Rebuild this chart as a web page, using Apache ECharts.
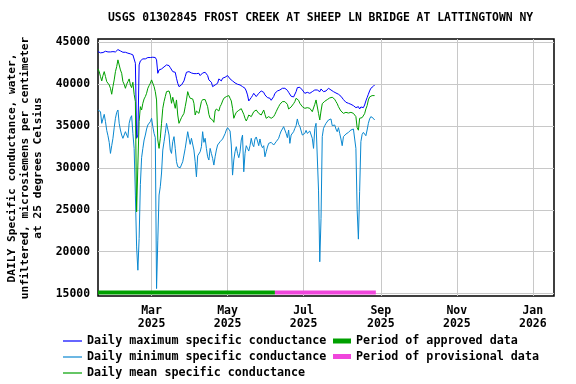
<!DOCTYPE html>
<html><head><meta charset="utf-8">
<script src="https://cdn.jsdelivr.net/npm/echarts@6/dist/echarts.min.js"></script>
<style>html,body{margin:0;padding:0;background:#fff}#c{width:576px;height:384px}</style>
</head><body><div id="c"></div>
<script>
const startDate = '2025-01-17';
const maxVals = [43880,43840,43730,43730,43770,43880,43920,43960,43840,43800,43840,43770,43880,43800,43840,43960,44120,44200,43960,43800,
43800,43770,43800,43730,43690,43650,43610,43570,43490,43290,42490,33530,33920,42290,42770,42930,43010,42850,43010,43090,
43170,43130,43170,43170,43210,43170,43170,42890,41290,41690,41890,41810,41970,42050,42130,42290,42490,42210,41970,41810,
41490,41490,41410,40700,40100,39700,39820,39900,39980,40380,40900,41410,41570,41490,41330,41330,41330,41250,41180,41250,
41330,41290,41020,40820,41330,41370,41410,41370,41020,40500,40380,40220,39700,39900,39900,39900,40100,40620,40620,40380,
40700,40780,40820,40900,41020,40900,40620,40460,40380,40260,40140,40060,39980,39940,39900,39820,39700,39580,39500,39180,
38710,37990,37910,38390,38630,38900,38710,38510,38630,38900,39100,39180,39300,39020,38710,38630,38390,38310,38310,38070,
38110,38510,38900,39100,39180,39300,39300,39420,39500,39580,39500,39380,39260,39020,38790,38550,38390,38470,38630,39100,
39580,39780,39620,39500,39300,39100,38900,38940,39020,38980,38900,39020,39100,39220,39300,39300,39300,39220,39100,39420,
39300,39100,39300,39180,39180,39500,39420,39300,39220,39100,39020,38940,38860,38790,38630,38550,38390,38150,37990,37830,
37710,37710,37670,37590,37510,37430,37310,37190,37110,37310,37030,37270,37190,37190,37510,37990,38390,38790,39180,39500,
39660,39740,39900];
const minVals = [36910,36950,36710,35320,35320,36390,35520,34480,33840,33050,31730,32650,33530,34800,35920,36630,36910,35320,34520,33920,
33530,33330,34320,34520,33610,35320,35920,36230,34120,32330,26760,20570,17790,21570,28000,31220,32330,33330,33920,34640,
35120,35040,35520,35920,34920,34120,33610,15600,21380,26760,27750,29390,32130,33130,34120,35320,35120,33920,32130,31730,
33130,33730,32330,30740,30140,30140,30020,29940,30740,31530,32330,33330,34320,33530,32810,33530,33530,32130,30740,28940,
31450,31330,31930,32530,34320,33050,33530,32330,31330,30940,32330,31730,31140,30340,31330,32130,32730,32930,33130,33290,
33450,33610,34080,34520,34800,34920,34400,32730,29140,30940,31930,32530,31730,31220,31930,33330,33920,29540,31730,32650,
32330,32010,32650,33530,32810,32530,33450,33690,33210,32650,33450,32730,32410,32650,31330,31930,32490,32930,33130,33050,
32930,32730,32810,33130,33330,33530,34000,34400,34640,34920,34720,34120,33610,34520,32930,33920,33730,34320,34720,35040,
35840,35200,34960,34800,33920,33770,34120,34480,34120,34240,34400,34480,33530,32330,34720,35320,35520,27350,18800,23960,
33730,34720,35040,35320,35520,35720,35840,35840,35040,35200,35120,34640,34320,34800,34120,33450,32650,33730,33920,34040,
34120,34240,34320,34520,34640,34640,34520,32330,25000,21500,27200,33130,34000,34240,34320,33840,34520,35320,35840,36120,
36040,35920,35720];
const meanVals = [41810,41490,40900,40380,41020,41490,40900,40300,40100,39900,39500,38790,39700,40500,41490,42090,42890,42290,41690,41290,
40300,39980,39500,39980,40300,40620,39900,39580,40220,38790,37910,24760,30340,35520,37310,36910,37710,38230,38510,38900,
39500,39820,40100,40500,40500,39700,39100,38110,33330,32330,33530,35320,37110,37910,38510,39100,39300,39180,38710,37710,
38430,38510,37110,38110,36310,35320,35520,36000,36230,36510,37310,38110,39100,38630,38310,38310,38230,37710,36310,36790,
36910,36510,36630,37910,38150,38230,38150,38110,37310,36390,35920,36080,35720,35440,36790,37030,36910,36790,37310,37590,
37990,38310,38390,38510,38590,38630,38310,37990,37110,35920,36310,36630,36710,36870,36950,37070,36910,36390,35920,35600,
35920,36310,36510,36120,36000,36710,36790,36910,36710,36510,36710,36310,36390,36910,36390,35920,36080,36120,36000,35920,
36040,36120,36390,36710,37030,37310,37590,37750,37910,37990,37910,37750,37590,37030,37030,37270,37430,37670,37910,38310,
38470,38070,37710,37510,37310,37230,37110,37190,37190,37110,37110,37030,36710,36510,37590,38110,38230,36510,35720,36790,
37670,37830,37950,38070,38150,38270,38350,38470,38430,38310,38190,37910,37670,37310,37030,36790,36590,36510,36550,36630,
36630,36550,36550,36630,36550,36510,36390,36120,34800,34500,35920,36080,36000,36120,36470,37030,37430,38110,38470,38590,
38630,38630,38630];
const approvedPeriod = ['2025-01-17', '2025-06-08'];
const provisionalPeriod = ['2025-06-08', '2025-08-28'];
const periodLevel = 15130;
const xTickDates = ['2025-03-01','2025-05-01','2025-07-01','2025-09-01','2025-11-01','2026-01-01'];
const xTickLabels = ['Mar\n2025','May\n2025','Jul\n2025','Sep\n2025','Nov\n2025','Jan\n2026'];
const yTicks = [15000,20000,25000,30000,35000,40000,45000];
const xRange = ['2025-01-17', '2026-01-18'];
const yRange = [14713, 45383];

const DAY = 86400000;
const t0 = new Date(startDate).getTime();
const toPairs = vals => vals.map((v, i) => [t0 + i * DAY, v]);
const ts = s => new Date(s).getTime();
const xTickVals = xTickDates.map(ts);
const FONT = '"DejaVu Sans Mono", monospace';
const txt = {fontFamily: FONT, fontSize: 11.4, fontWeight: 'bold', color: '#000'};
const legendTxt = Object.assign({}, txt, {fontSize: 11.7, lineHeight: 14, height: 14});

const names = ['Daily maximum specific conductance','Daily minimum specific conductance','Daily mean specific conductance','Period of approved data','Period of provisional data'];
const lineSeries = (name, data, color, w) => ({name, type: 'line', data, symbol: 'none', showSymbol: false, animation: false,
  lineStyle: {color, width: w}, itemStyle: {color}, clip: true});

const chart = echarts.init(document.getElementById('c'), null, {renderer: 'canvas'});
chart.setOption({
  animation: false,
  backgroundColor: '#fff',
  title: {text: 'USGS 01302845 FROST CREEK AT SHEEP LN BRIDGE AT LATTINGTOWN NY', left: 108, top: 13, padding: 0,
    textStyle: Object.assign({}, txt)},
  grid: {left: 98, right: 22, top: 39, bottom: 88, show: true, borderColor: '#000', borderWidth: 1.5, backgroundColor: 'transparent'},
  xAxis: {type: 'value', min: ts(xRange[0]), max: ts(xRange[1]),
    axisLine: {show: false}, axisTick: {show: false, customValues: xTickVals},
    splitLine: {show: true, lineStyle: {color: '#c8c8c8', width: 1}},
    axisLabel: Object.assign({customValues: xTickVals, margin: 9, lineHeight: 13, hideOverlap: false,
      formatter: v => { const k = xTickVals.indexOf(v); return k >= 0 ? xTickLabels[k] : ''; }}, txt, {fontSize: 11.5})},
  yAxis: {type: 'value', min: yRange[0], max: yRange[1],
    axisLine: {show: false}, axisTick: {show: false, customValues: yTicks},
    splitLine: {show: true, lineStyle: {color: '#c8c8c8', width: 1}},
    axisLabel: Object.assign({customValues: yTicks, margin: 8, formatter: v => String(v)}, txt)},
  legend: [
    {orient: 'vertical', left: 63, top: 334, icon: 'rect', itemWidth: 19, itemHeight: 1.2, itemGap: 2, padding: 0,
      data: names.slice(0, 3), textStyle: legendTxt},
    {orient: 'vertical', left: 333, top: 334, icon: 'rect', itemWidth: 18, itemHeight: 5, itemGap: 1.5, padding: 0,
      data: names.slice(3), textStyle: legendTxt}
  ],
  graphic: [{type: 'text', x: 25, y: 168, rotation: Math.PI / 2,
    style: {text: 'DAILY Specific conductance, water,\nunfiltered, microsiemens per centimeter\nat 25 degrees Celsius',
      fontFamily: FONT, fontSize: 11.2, fontWeight: 'bold', lineHeight: 13, fill: '#000', align: 'center', verticalAlign: 'middle'}}],
  series: [
    lineSeries(names[0], toPairs(maxVals), '#0000ff', 1),
    lineSeries(names[1], toPairs(minVals), '#0a88d0', 1),
    lineSeries(names[2], toPairs(meanVals), '#00a000', 1),
    lineSeries(names[3], approvedPeriod.map(d => [ts(d), periodLevel]), '#00a000', 4),
    lineSeries(names[4], provisionalPeriod.map(d => [ts(d), periodLevel]), '#f046dc', 4)
  ]
});
</script></body></html>
